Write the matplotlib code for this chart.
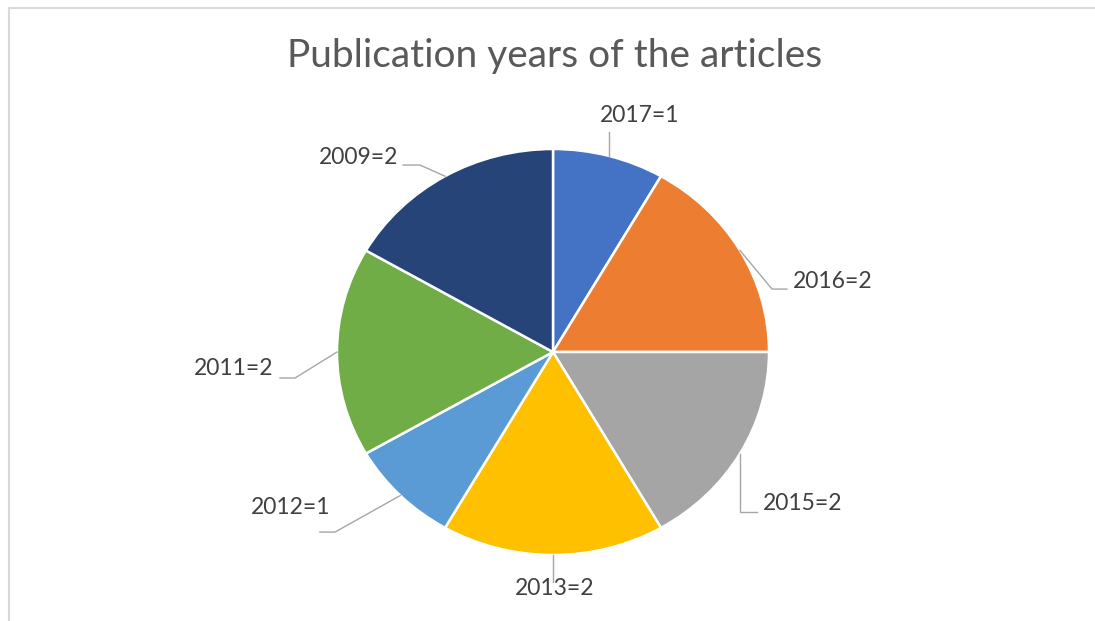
import matplotlib
matplotlib.use("Agg")
import matplotlib.pyplot as plt
from matplotlib.patches import Rectangle
import numpy as np

# ---- data ----
years = ["2017", "2016", "2015", "2013", "2012", "2011", "2009"]
counts = [1, 2, 2, 2, 1, 2, 2]
colors = ["#4472C4", "#ED7D31", "#A5A5A5", "#FFC000", "#5B9BD5", "#70AD47", "#264478"]
title = "Publication years of the articles"

# ---- label layout (data units relative to pie of radius 1) ----
label_layout = {
    "2017": dict(xy=(0.40, 1.167), ha="center", path=[(None, 1.084)]),
    "2016": dict(xy=(1.111, 0.345), ha="left", path=[(1.014, 0.310), (1.083, 0.310)]),
    "2015": dict(xy=(0.972, -0.744), ha="left", path=[(None, -0.788), (0.944, -0.788)]),
    "2013": dict(xy=(0.009, -1.163), ha="center", path=[(None, -1.133)]),
    "2012": dict(xy=(-1.032, -0.768), ha="right", path=[(-1.009, -0.887), (-1.079, -0.887)]),
    "2011": dict(xy=(-1.296, -0.079), ha="right", path=[(-1.194, -0.128), (-1.264, -0.128)]),
    "2009": dict(xy=(-0.718, 0.956), ha="right", path=[(-0.616, 0.921), (-0.694, 0.921)]),
}

W, H = 1095, 621
fig = plt.figure(figsize=(W / 100, H / 100), dpi=100)
fig.patch.set_facecolor("white")

# outer chart frame (only top and left edges visible in the crop)
fig.add_artist(Rectangle((9 / W, -0.1), 1.2, 1 - 8 / H + 0.1, transform=fig.transFigure,
                         fill=False, edgecolor="#D9D9D9", linewidth=1.5))

cx, cy, rx, ry = 553, 352, 216, 203
ax = fig.add_axes([(cx - rx) / W, 1 - (cy + ry) / H, 2 * rx / W, 2 * ry / H])

wedges, _ = ax.pie(counts, colors=colors, startangle=90, counterclock=False,
                   radius=1.0, wedgeprops=dict(edgecolor="white", linewidth=1.8))
ax.set_aspect("auto")
ax.set_xlim(-1, 1)
ax.set_ylim(-1, 1)
ax.axis("off")

font = "Lato"
for w, yr, c in zip(wedges, years, counts):
    ang = np.deg2rad((w.theta1 + w.theta2) / 2)
    ax0, ay0 = np.cos(ang), np.sin(ang)
    lay = label_layout[yr]
    xs, ys = [ax0], [ay0]
    for px, py in lay["path"]:
        xs.append(ax0 if px is None else px)
        ys.append(py)
    ax.plot(xs, ys, color="#A6A6A6", lw=1.0, clip_on=False, zorder=1)
    ax.text(lay["xy"][0], lay["xy"][1], f"{yr}={c}", ha=lay["ha"], va="center",
            fontsize=16.5, color="#404040", family=font, clip_on=False, zorder=3)

fig.text(555 / W, 1 - 56 / H, title, ha="center", va="center", fontsize=28,
         color="#595959", family=font)

fig.savefig("out.png", dpi=100, facecolor="white")
